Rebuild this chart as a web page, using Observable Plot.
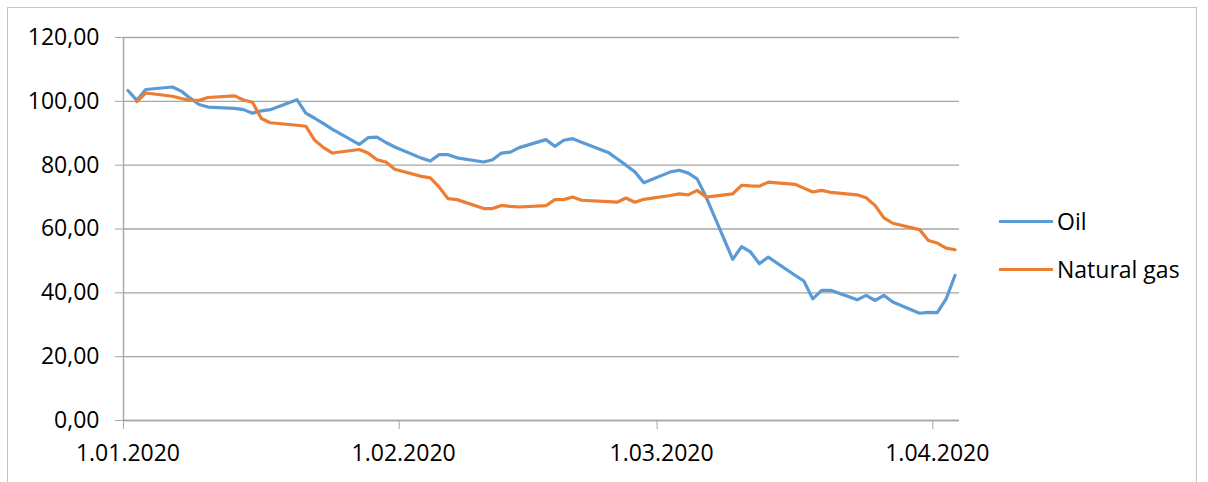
<!DOCTYPE html>
<html>
<head>
<meta charset="utf-8">
<script src="https://cdn.jsdelivr.net/npm/d3@7"></script>
<script src="https://cdn.jsdelivr.net/npm/@observablehq/plot@0.6"></script>
<style>
  html, body { margin: 0; padding: 0; background: #fff; }
  #wrap { position: relative; width: 1208px; height: 482px; overflow: hidden; font-family: "Open Sans", sans-serif; }
  #frame { position: absolute; left: 7px; top: 7px; width: 1190px; height: 500px; border: 1px solid #c4c4c4; box-sizing: border-box; pointer-events: none; }
  .leg { position: absolute; left: 999px; display: flex; align-items: center; font-size: 23px; color: #000; }
  .leg .sw { width: 54px; height: 3px; margin-right: 4px; }
</style>
</head>
<body>
<div id="wrap">
  <div id="chart"></div>
  <div id="frame"></div>
  <div class="leg" style="top:205px"><div class="sw" style="background:#5B9BD5"></div><span>Oil</span></div>
  <div class="leg" style="top:253px"><div class="sw" style="background:#ED7D31"></div><span>Natural gas</span></div>
</div>
<script>
const dates = [
  "2020-01-01","2020-01-02","2020-01-03","2020-01-06","2020-01-07","2020-01-08","2020-01-09","2020-01-10",
  "2020-01-13","2020-01-14","2020-01-15","2020-01-16","2020-01-17","2020-01-20","2020-01-21","2020-01-22",
  "2020-01-23","2020-01-24","2020-01-27","2020-01-28","2020-01-29","2020-01-30","2020-01-31","2020-02-03",
  "2020-02-04","2020-02-05","2020-02-06","2020-02-07","2020-02-10","2020-02-11","2020-02-12","2020-02-13",
  "2020-02-14","2020-02-17","2020-02-18","2020-02-19","2020-02-20","2020-02-21","2020-02-24","2020-02-25",
  "2020-02-26","2020-02-27","2020-02-28","2020-03-02","2020-03-03","2020-03-04","2020-03-05","2020-03-06",
  "2020-03-09","2020-03-10","2020-03-11","2020-03-12","2020-03-13","2020-03-16","2020-03-17","2020-03-18",
  "2020-03-19","2020-03-20","2020-03-23","2020-03-24","2020-03-25","2020-03-26","2020-03-27","2020-03-30",
  "2020-03-31","2020-04-01","2020-04-02","2020-04-03"
];
const oil = [
  103.4,100.3,103.7,104.5,103.2,101.0,99.0,98.2,
  97.8,97.4,96.3,97.0,97.4,100.5,96.3,94.7,
  93.0,91.2,86.5,88.6,88.8,87.1,85.7,82.2,
  81.3,83.3,83.3,82.3,81.0,81.7,83.8,84.1,
  85.5,88.0,85.9,87.8,88.3,87.2,84.0,82.0,
  80.0,77.9,74.5,77.9,78.4,77.5,75.7,70.1,
  50.5,54.5,52.8,49.1,51.2,45.5,43.7,38.1,
  40.8,40.8,37.8,39.2,37.6,39.2,37.1,33.6,
  33.9,33.8,38.1,45.5
];
const gas = [
  null,99.9,102.6,101.6,100.9,100.3,100.3,101.2,
  101.7,100.4,99.7,94.6,93.3,92.5,92.2,87.8,
  85.5,83.8,84.9,83.8,81.7,81.0,78.7,76.5,
  76.0,73.1,69.5,69.2,66.4,66.4,67.4,67.1,
  66.9,67.3,69.2,69.2,70.0,69.0,68.6,68.4,
  69.7,68.4,69.3,70.5,71.0,70.7,72.1,70.0,
  71.0,73.7,73.5,73.4,74.7,74.0,72.8,71.6,
  72.1,71.5,70.7,69.8,67.4,63.5,61.8,59.8,
  56.4,55.6,54.0,53.5
];
const yTicks = [0, 20, 40, 60, 80, 100, 120];
const xTickLabels = ["2020-01-01","2020-02-01","2020-03-01","2020-04-01"];
const xDomain = ["2020-01-01","2020-04-04"];

const parse = d3.utcParse("%Y-%m-%d");
const mid = s => d3.utcHour.offset(parse(s), 12);
const oilRows = dates.map((d, i) => ({date: mid(d), value: oil[i]}));
const gasRows = dates.map((d, i) => ({date: mid(d), value: gas[i]}));
const tickDates = xTickLabels.map(parse);
const fmtDate = d => `${d.getUTCDate()}.${String(d.getUTCMonth() + 1).padStart(2, "0")}.${d.getUTCFullYear()}`;
const fmtY = v => v.toFixed(2).replace(".", ",");
const gridColor = "#a6a6a6";

const chart = Plot.plot({
  width: 1208,
  height: 482,
  marginLeft: 123,
  marginRight: 249,
  marginTop: 37,
  marginBottom: 62,
  style: {fontFamily: "'Open Sans', sans-serif", fontSize: "23px", color: "#000", background: "transparent"},
  x: {type: "utc", domain: xDomain.map(parse), label: null},
  y: {domain: [0, 120], label: null},
  marks: [
    Plot.gridY(yTicks, {stroke: gridColor, strokeOpacity: 1, strokeWidth: 1.4}),
    Plot.axisY({ticks: yTicks, tickFormat: fmtY, tickSize: 8, tickPadding: 16, stroke: gridColor, strokeOpacity: 1, fontSize: 23, fill: "#000", label: null}),
    Plot.axisX({ticks: tickDates, tickSize: 9, tickFormat: () => "", stroke: gridColor, strokeOpacity: 1, label: null}),
    Plot.ruleX([parse(xDomain[0])], {stroke: gridColor, strokeWidth: 1.4}),
    Plot.ruleY([0], {stroke: gridColor, strokeWidth: 1.4}),
    Plot.text(tickDates, {x: d => d3.utcHour.offset(d, 12), y: () => 0, text: fmtDate, dy: 33, fontSize: 23, fill: "#000", textAnchor: "middle"}),
    Plot.line(oilRows, {x: "date", y: "value", stroke: "#5B9BD5", strokeWidth: 3.2, strokeLinejoin: "round"}),
    Plot.line(gasRows, {x: "date", y: "value", stroke: "#ED7D31", strokeWidth: 3.2, strokeLinejoin: "round"})
  ]
});
document.getElementById("chart").appendChild(chart);
</script>
</body>
</html>
